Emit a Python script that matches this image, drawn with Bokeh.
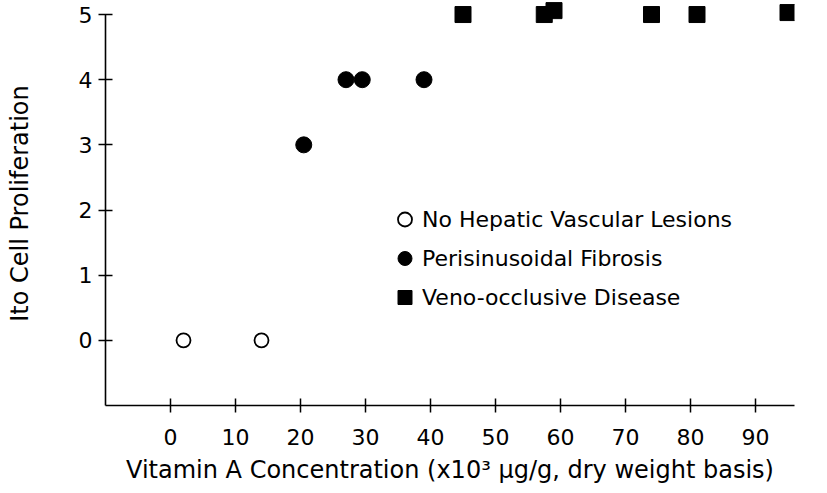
from bokeh.plotting import figure
from bokeh.models import Range1d, FixedTicker, Legend, LegendItem
from bokeh.embed import file_html
from bokeh.resources import INLINE

# Data
none_x = [2, 14]
none_y = [0, 0]
fib_x = [20.5, 27, 29.5, 39]
fib_y = [3, 4, 4, 4]
vod_x = [45, 57.5, 59, 74, 81, 95]
vod_y = [5, 5, 5.06, 5, 5, 5.03]

x_ticks = [0, 10, 20, 30, 40, 50, 60, 70, 80, 90]
y_ticks = [0, 1, 2, 3, 4, 5]

labels = ["No Hepatic Vascular Lesions", "Perisinusoidal Fibrosis", "Veno-occlusive Disease"]

FONT = "DejaVu Sans"

p = figure(frame_width=689, frame_height=404,
           x_range=Range1d(-10, 96), y_range=Range1d(-1, 5.2),
           output_backend="svg", toolbar_location=None,
           min_border_left=105, min_border_right=23, min_border_top=1, min_border_bottom=82)

p.grid.visible = False
p.outline_line_color = None
p.background_fill_color = "white"
p.border_fill_color = "white"

for ax in (p.xaxis[0], p.yaxis[0]):
    ax.axis_line_color = "black"
    ax.axis_line_width = 1.6
    ax.major_tick_line_color = "black"
    ax.major_tick_line_width = 1.5
    ax.major_tick_in = 7
    ax.major_tick_out = 7
    ax.minor_tick_line_color = None
    ax.major_label_text_font = FONT
    ax.major_label_text_font_size = "22px"
    ax.major_label_text_color = "black"
    ax.axis_label_text_font = FONT
    ax.axis_label_text_font_style = "normal"
    ax.axis_label_text_font_size = "24px"
    ax.axis_label_text_color = "black"

p.xaxis[0].ticker = FixedTicker(ticks=x_ticks)
p.yaxis[0].ticker = FixedTicker(ticks=y_ticks)
p.xaxis[0].bounds = (-10, 96)
p.yaxis[0].bounds = (-1, 5)
p.xaxis[0].major_label_standoff = 16
p.yaxis[0].major_label_standoff = 6
p.xaxis[0].axis_label = "Vitamin A Concentration (x10\u00b3 \u03bcg/g, dry weight basis)"
p.yaxis[0].axis_label = "Ito Cell Proliferation"
p.xaxis[0].axis_label_standoff = 8
p.yaxis[0].axis_label_standoff = 42

r1 = p.scatter(none_x, none_y, marker="circle", size=14, fill_color="white",
               line_color="black", line_width=1.8)
r2 = p.scatter(fib_x, fib_y, marker="circle", size=16, fill_color="black",
               line_color="black")
r3 = p.scatter(vod_x, vod_y, marker="square", size=16, fill_color="black",
               line_color="black")

legend = Legend(items=[LegendItem(label=labels[0], renderers=[r1]),
                       LegendItem(label=labels[1], renderers=[r2]),
                       LegendItem(label=labels[2], renderers=[r3])],
                location=(282, 90), orientation="vertical",
                glyph_width=35, glyph_height=36, label_height=36,
                spacing=3, padding=0, margin=0, label_standoff=0,
                label_text_font=FONT, label_text_font_size="22px",
                label_text_color="black",
                border_line_color=None, background_fill_alpha=0)
p.add_layout(legend)

open("out.html", "w").write(file_html(p, INLINE))
